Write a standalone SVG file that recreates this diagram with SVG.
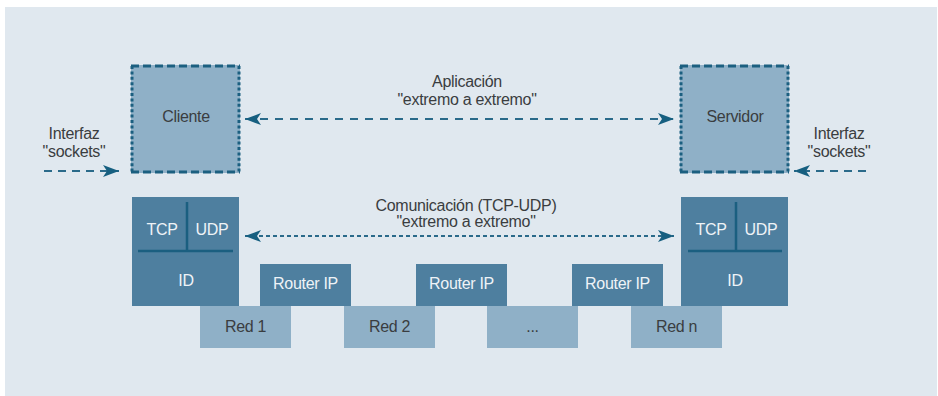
<svg xmlns="http://www.w3.org/2000/svg" width="938" height="396" viewBox="0 0 938 396">
<defs>
<style>
.t{font-family:"Liberation Sans",Arial,sans-serif;font-size:16px;letter-spacing:-0.3px;text-anchor:middle;fill:#3a3d40}
.w{fill:#eef3f7}
.dark{fill:#4e7f9f}
.light{fill:#8fb0c7}
.hb{stroke:#1b5f80;stroke-width:3;stroke-dasharray:8 4;fill:none}
.vb{stroke:#1b5f80;stroke-width:3;stroke-dasharray:3 2.4;fill:none}
.div{stroke:#1b5f80;stroke-width:2.5;fill:none}
.app{stroke:#2a6a8a;stroke-width:2;stroke-dasharray:8 7;fill:none}
.com{stroke:#2a6a8a;stroke-width:2;stroke-dasharray:4 3;fill:none}
.sock{stroke:#2a6a8a;stroke-width:2;stroke-dasharray:8 6;fill:none}
</style>
<marker id="ah" viewBox="0 0 16 12" refX="16" refY="6" markerWidth="16" markerHeight="12" markerUnits="userSpaceOnUse" orient="auto-start-reverse">
<path d="M0,0 L16,6 L0,12 L4,6 Z" fill="#165f80"/>
</marker>
</defs>
<rect x="5" y="7" width="932" height="389" fill="#e0e8ef"/>

<g id="cliente">
<rect x="131" y="65" width="109" height="108" class="light"/>
<line x1="131" y1="66" x2="240" y2="66" class="hb"/>
<line x1="131" y1="172" x2="240" y2="172" class="hb"/>
<line x1="132" y1="66" x2="132" y2="172" class="vb"/>
<line x1="239" y1="66" x2="239" y2="172" class="vb"/>
<text x="186" y="122" class="t">Cliente</text>
</g>

<g id="servidor">
<rect x="680" y="65" width="109" height="108" class="light"/>
<line x1="680" y1="66" x2="789" y2="66" class="hb"/>
<line x1="680" y1="172" x2="789" y2="172" class="hb"/>
<line x1="681" y1="66" x2="681" y2="172" class="vb"/>
<line x1="788" y1="66" x2="788" y2="172" class="vb"/>
<text x="735" y="122" class="t">Servidor</text>
</g>

<g id="interfaz-izq">
<text x="74" y="139" class="t">Interfaz</text>
<text x="74" y="157" class="t">"sockets"</text>
</g>
<g id="interfaz-der">
<text x="839" y="139" class="t">Interfaz</text>
<text x="839" y="157" class="t">"sockets"</text>
</g>

<g id="aplicacion-label">
<text x="467" y="87" class="t">Aplicación</text>
<text x="467" y="105" class="t">"extremo a extremo"</text>
</g>
<g id="comunicacion-label">
<text x="466" y="211" class="t">Comunicación (TCP-UDP)</text>
<text x="466" y="227" class="t">"extremo a extremo"</text>
</g>

<g id="pila-cliente">
<rect x="132" y="197" width="107" height="109" class="dark"/>
<line x1="187" y1="202" x2="187" y2="251" class="div"/>
<line x1="138" y1="251" x2="233" y2="251" class="div"/>
<text x="162" y="235" class="t w">TCP</text>
<text x="212" y="235" class="t w">UDP</text>
<text x="186" y="286" class="t w">ID</text>
</g>

<g id="pila-servidor">
<rect x="681" y="197" width="107" height="109" class="dark"/>
<line x1="736" y1="202" x2="736" y2="251" class="div"/>
<line x1="688" y1="251" x2="782" y2="251" class="div"/>
<text x="711" y="235" class="t w">TCP</text>
<text x="761" y="235" class="t w">UDP</text>
<text x="735" y="286" class="t w">ID</text>
</g>

<g id="router1">
<rect x="260" y="264" width="91" height="42" class="dark"/>
<text x="305.5" y="289" class="t w">Router IP</text>
</g>
<g id="router2">
<rect x="416" y="264" width="91" height="42" class="dark"/>
<text x="461.5" y="289" class="t w">Router IP</text>
</g>
<g id="router3">
<rect x="572" y="264" width="91" height="42" class="dark"/>
<text x="617.5" y="289" class="t w">Router IP</text>
</g>

<g id="red1">
<rect x="200" y="306" width="91" height="42" class="light"/>
<text x="245.5" y="332" class="t">Red 1</text>
</g>
<g id="red2">
<rect x="344" y="306" width="91" height="42" class="light"/>
<text x="389.5" y="332" class="t">Red 2</text>
</g>
<g id="red-dots">
<rect x="487" y="306" width="91" height="42" class="light"/>
<text x="532.5" y="332" class="t">...</text>
</g>
<g id="redn">
<rect x="631" y="306" width="91" height="42" class="light"/>
<text x="676.5" y="332" class="t">Red n</text>
</g>

<g id="connectors">
<line x1="245" y1="119" x2="674" y2="119" class="app" marker-start="url(#ah)" marker-end="url(#ah)"/>
<line x1="245" y1="236" x2="674" y2="236" class="com" marker-start="url(#ah)" marker-end="url(#ah)"/>
<line x1="44" y1="171" x2="119" y2="171" class="sock" marker-end="url(#ah)"/>
<line x1="866" y1="171" x2="794" y2="171" class="sock" marker-end="url(#ah)"/>
</g>
</svg>
